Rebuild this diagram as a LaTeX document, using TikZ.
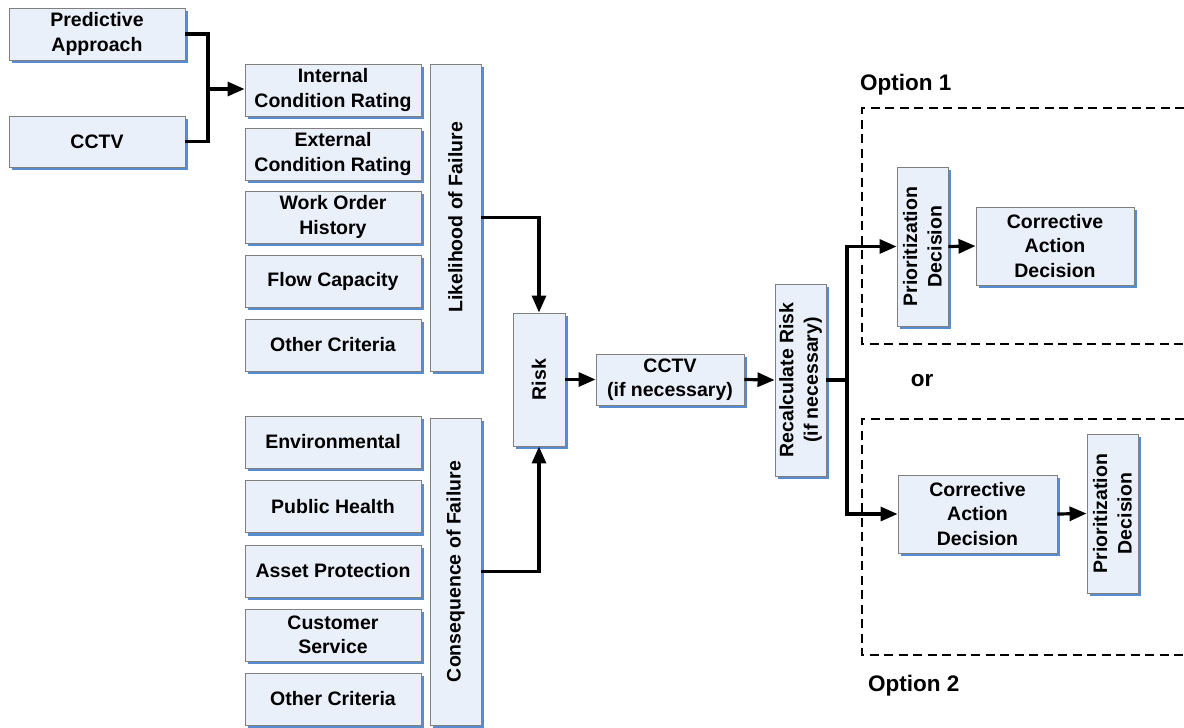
\documentclass[tikz,border=0pt]{standalone}
\usepackage{fontspec}
\setmainfont{Liberation Sans}
\usetikzlibrary{shadows,arrows.meta}
\definecolor{boxfill}{RGB}{234,240,250}
\definecolor{boxline}{RGB}{128,128,128}
\definecolor{shadowblue}{RGB}{88,140,208}
\begin{document}
\begin{tikzpicture}[x=1pt,y=-1pt,
  box/.style={draw=boxline, line width=0.9pt, fill=boxfill, inner sep=0pt, align=center,
    font=\fontsize{19.5}{24.5}\selectfont\bfseries,
    drop shadow={shadow xshift=3pt, shadow yshift=-3pt, fill=shadowblue, opacity=1}},
  vtext/.style={rotate=90, align=center, inner sep=0pt, font=\fontsize{19.5}{24.5}\selectfont\bfseries},
  conn/.style={line width=3.2pt},
  arr/.style={line width=3.2pt, -{Triangle[length=17pt,width=14pt]}},
  dbox/.style={line width=2.3pt, dash pattern=on 9pt off 5.5pt},
  opt/.style={font=\fontsize{22.5}{26}\selectfont\bfseries, inner sep=0pt}]
\useasboundingbox (0,0) rectangle (1184,728);

% left inputs
\node[box, minimum width=176, minimum height=52] (pa) at (97,34) {Predictive\\Approach};
\node[box, minimum width=176, minimum height=51] (cctv1) at (97,141.5) {CCTV};

% likelihood criteria
\node[box, minimum width=176, minimum height=52] (icr) at (333,90) {Internal\\Condition Rating};
\node[box, minimum width=176, minimum height=52] (ecr) at (333,154) {External\\Condition Rating};
\node[box, minimum width=176, minimum height=52] (woh) at (333,217) {Work Order\\History};
\node[box, minimum width=176, minimum height=52] (fc) at (333,281) {Flow Capacity};
\node[box, minimum width=176, minimum height=52] (oc1) at (333,345) {Other Criteria};
\node[box, minimum width=51, minimum height=307] (lof) at (455.5,217.5) {};
\node[vtext] (loft) at (lof.center) {Likelihood of Failure};

% consequence criteria
\node[box, minimum width=176, minimum height=52] (env) at (333,442) {Environmental};
\node[box, minimum width=176, minimum height=52] (ph) at (333,506.5) {Public Health};
\node[box, minimum width=176, minimum height=52] (ap) at (333,571) {Asset Protection};
\node[box, minimum width=176, minimum height=52] (cs) at (333,635) {Customer\\Service};
\node[box, minimum width=176, minimum height=52] (oc2) at (333,699) {Other Criteria};
\node[box, minimum width=51, minimum height=307] (cof) at (455.5,571.5) {};
\node[vtext] (coft) at (cof.center) {Consequence of Failure};

% risk chain
\node[box, minimum width=52, minimum height=133] (risk) at (539,379.5) {};
\node[vtext] (riskt) at (risk.center) {Risk};
\node[box, minimum width=148, minimum height=51] (cctv2) at (670,379.5) {CCTV\\(if necessary)};
\node[box, minimum width=51, minimum height=192] (rr) at (800.5,380) {};
\node[vtext] (rrt) at (rr.center) {Recalculate Risk\\(if necessary)};

% option 1
\node[box, minimum width=51, minimum height=159] (pd1) at (922.5,246.5) {};
\node[vtext] (pd1t) at (pd1.center) {Prioritization\\Decision};
\node[box, minimum width=158, minimum height=78] (cad1) at (1055,246) {Corrective\\Action\\Decision};

% option 2
\node[box, minimum width=159, minimum height=78] (cad2) at (977.5,514) {Corrective\\Action\\Decision};
\node[box, minimum width=51, minimum height=159] (pd2) at (1112.5,513.5) {};
\node[vtext] (pd2t) at (pd2.center) {Prioritization\\Decision};

% dashed option frames
\draw[dbox] (1184,108) -- (862,108) -- (862,344) -- (1184,344);
\draw[dbox] (1184,419) -- (862,419) -- (862,655) -- (1184,655);
\node[opt, anchor=west] (o1) at (860,85) {Option 1};
\node[opt, anchor=west] (o2) at (868,686) {Option 2};
\node[opt] (or) at (922,381) {or};

% connectors
\coordinate (j1) at (208,89);
\draw[conn] (pa.east) -| (j1);
\draw[conn] (cctv1.east) -| (j1);
\draw[arr] (j1) -- (icr.west |- j1);
\draw[arr] (lof.east) -| (risk.north);
\draw[arr] (cof.east) -| (risk.south);
\draw[arr] (risk.east) -- (cctv2.west);
\draw[arr] (cctv2.east) -- (rr.west);
\coordinate (j2) at (847,380);
\draw[conn] (rr.east) -- (j2);
\draw[arr] (j2) |- (pd1.west);
\draw[arr] (j2) |- (cad2.west);
\draw[arr] (pd1.east) -- (cad1.west);
\draw[arr] (cad2.east) -- (pd2.west);
\end{tikzpicture}
\end{document}
